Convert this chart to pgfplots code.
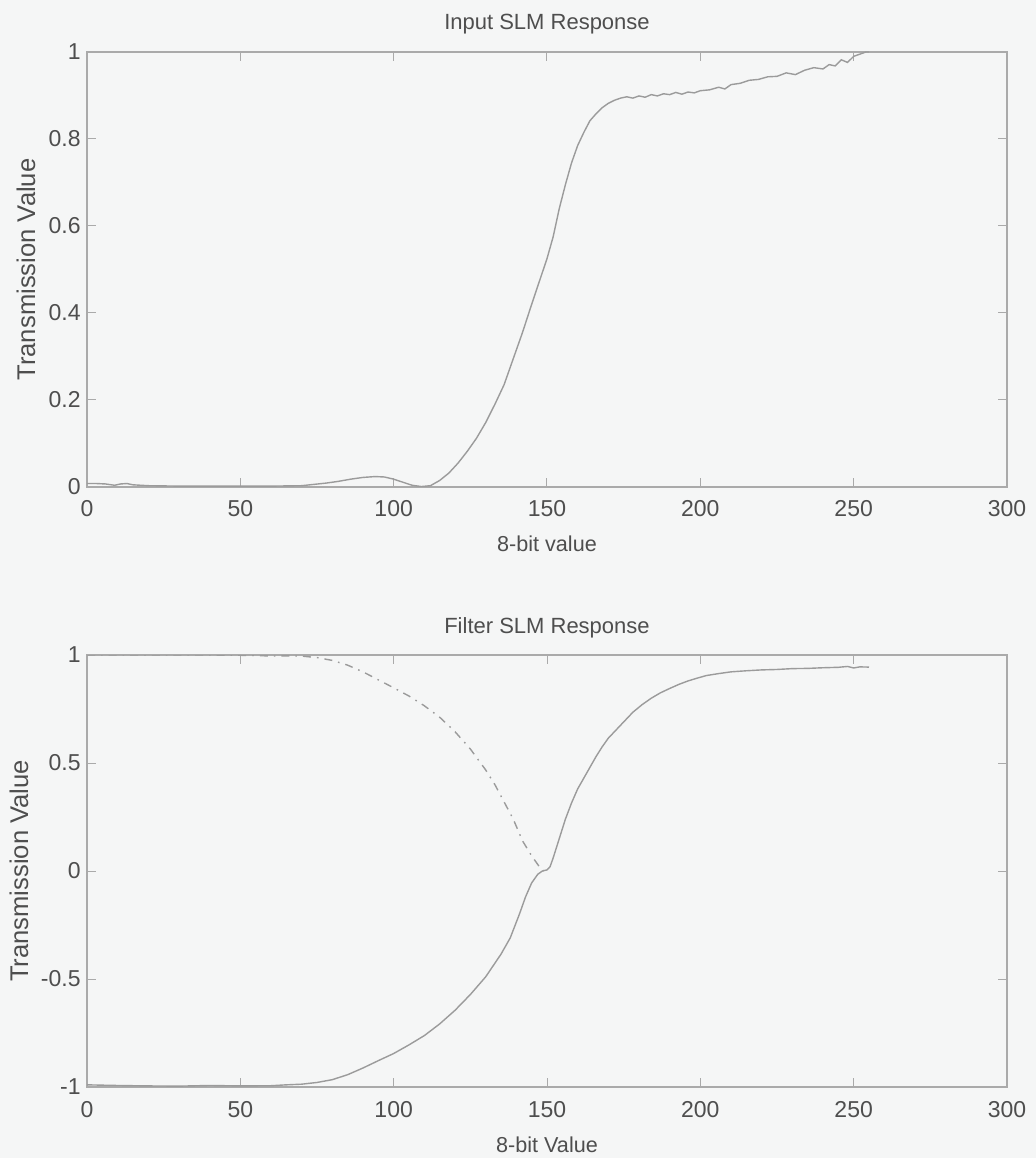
\documentclass[border=0pt]{standalone}
\usepackage{pgfplots}
\pgfplotsset{compat=1.18}
\usepackage{fontspec}
\setmainfont{Liberation Sans}

\definecolor{figbg}{RGB}{245,246,246}
\definecolor{axisgray}{RGB}{170,170,170}
\definecolor{linegray}{RGB}{155,155,155}
\definecolor{textgray}{RGB}{78,78,78}

\pgfplotsset{
  slm/.style={
    scale only axis,
    width=460pt,
    xmin=0, xmax=300,
    xtick={0,50,100,150,200,250,300},
    axis line style={axisgray, line width=0.55pt},
    tick style={axisgray, line width=0.5pt},
    major tick length=4.5pt,
    tick align=inside,
    /pgf/number format/assume math mode=true,
    ticklabel style={font=\fontsize{11.5}{13}\selectfont, text=textgray},
    xticklabel style={anchor=base, yshift=-15pt},
    yticklabel style={anchor=east, inner sep=0pt, xshift=-3pt},
    % the default title style already shifts up by 6pt
    title style={at={(0.5,1)}, anchor=base, yshift=5pt,
      font=\fontsize{11}{13}\selectfont, text=textgray},
    xlabel style={at={(0.5,0)}, anchor=base, yshift=-32.5pt,
      font=\fontsize{10.8}{13}\selectfont, text=textgray},
    ylabel style={anchor=base, font=\fontsize{12.8}{15}\selectfont, text=textgray},
  },
  resp/.style={linegray, line width=0.7pt, mark=none},
}

\begin{document}
\begin{tikzpicture}
\fill[figbg] (0pt,0pt) rectangle (518pt,579pt);
\useasboundingbox (0pt,0pt) rectangle (518pt,579pt);

% Input SLM
\begin{axis}[slm,
  at={(43.5pt,335.5pt)}, anchor=south west,
  height=217.5pt,
  ymin=0, ymax=1,
  ytick={0,0.2,0.4,0.6,0.8,1},
  title={Input SLM Response},
  xlabel={8-bit value},
  ylabel={Transmission Value},
  ylabel style={at={(axis description cs:-0.0565,0.5)}},
]
\addplot[resp] coordinates {
(0,0.008) (3,0.008) (6,0.007) (9,0.004) (11,0.007) (13,0.008) (15,0.005)
(20,0.003) (30,0.002) (40,0.002) (50,0.002) (60,0.002) (70,0.003)
(74,0.006) (78,0.009) (82,0.013) (86,0.018) (90,0.022) (94,0.024)
(97,0.023) (100,0.018) (103,0.011) (106,0.004) (109,0.001) (112,0.003)
(115,0.015) (118,0.032) (121,0.055) (124,0.082) (127,0.112) (130,0.148)
(133,0.19) (136,0.235) (139,0.295) (142,0.355) (145,0.42) (148,0.483)
(150,0.525) (152,0.575) (154,0.64) (156,0.695) (158,0.745) (160,0.785)
(162,0.815) (164,0.842) (166,0.858) (168,0.872) (170,0.882) (172,0.889)
(174,0.894) (176,0.897) (178,0.894) (180,0.899) (182,0.896) (184,0.902)
(186,0.899) (188,0.904) (190,0.902) (192,0.907) (194,0.903) (196,0.908)
(198,0.906) (200,0.911) (203,0.913) (206,0.919) (208,0.915) (210,0.925)
(213,0.928) (216,0.935) (219,0.937) (222,0.943) (225,0.944) (228,0.952)
(231,0.948) (234,0.958) (237,0.964) (240,0.961) (242,0.971) (244,0.968)
(246,0.982) (248,0.976) (250,0.99) (252,0.995) (254,1.0) (255,1.0)
};
\end{axis}

% Filter SLM
\begin{axis}[slm,
  at={(43.5pt,35.5pt)}, anchor=south west,
  height=216pt,
  ymin=-1, ymax=1,
  ytick={-1,-0.5,0,0.5,1},
  title={Filter SLM Response},
  xlabel={8-bit Value},
  ylabel={Transmission Value},
  ylabel style={at={(axis description cs:-0.064,0.5)}},
]
\addplot[resp] coordinates {
(0,-0.99) (10,-0.993) (20,-0.995) (30,-0.996) (40,-0.993) (50,-0.995)
(60,-0.994) (65,-0.99) (70,-0.987) (75,-0.979) (80,-0.966) (85,-0.943)
(90,-0.912) (95,-0.878) (100,-0.845) (105,-0.805) (110,-0.762) (115,-0.708)
(120,-0.645) (125,-0.572) (130,-0.49) (135,-0.385) (138,-0.31) (141,-0.2)
(143,-0.12) (145,-0.055) (147,-0.015) (148.5,0.0) (150,0.005) (151,0.02)
(152,0.06) (154,0.15) (156,0.24) (158,0.315) (160,0.38) (162,0.43)
(164,0.48) (166,0.53) (168,0.575) (170,0.615) (172,0.645) (175,0.69)
(178,0.735) (181,0.77) (184,0.8) (187,0.825) (190,0.845) (193,0.864)
(196,0.88) (199,0.893) (202,0.905) (206,0.914) (210,0.922) (215,0.927)
(220,0.931) (225,0.933) (230,0.937) (235,0.938) (240,0.941) (245,0.943)
(248,0.947) (250,0.94) (252,0.945) (255,0.944)
};
\addplot[resp, dash pattern=on 4pt off 3pt on 0.8pt off 3pt] coordinates {
(0,1.0) (20,1.0) (40,1.0) (55,0.998) (60,0.995) (65,0.996) (70,0.995)
(75,0.988) (80,0.975) (85,0.953) (90,0.922) (95,0.885) (100,0.848)
(105,0.81) (110,0.765) (115,0.712) (120,0.645) (125,0.565) (130,0.468)
(133,0.4) (136,0.32) (139,0.24) (142,0.14) (145,0.07) (147.5,0.02) (149,0.0)
};
\end{axis}
\end{tikzpicture}
\end{document}
